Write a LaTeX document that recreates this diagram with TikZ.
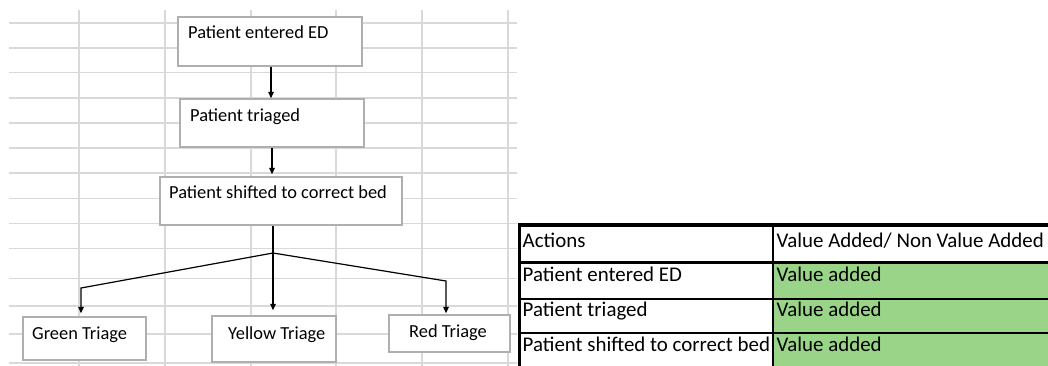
\documentclass[tikz,border=0pt]{standalone}
\usepackage{fontspec}
\setmainfont{Carlito}
\usetikzlibrary{arrows.meta,calc}
\definecolor{gridgray}{RGB}{217,217,217}
\definecolor{boxgray}{RGB}{175,175,175}
\definecolor{valgreen}{RGB}{153,212,137}
\begin{document}
\begin{tikzpicture}[x=1pt,y=-1pt,
  gridline/.style={draw=gridgray,line width=1.6pt},
  flowbox/.style={draw=boxgray,fill=white,line width=1.3pt,inner sep=0pt},
  flowtext/.style={anchor=base west,inner sep=0pt,font=\fontsize{18.4}{22}\selectfont},
  conn/.style={line width=1.2pt,draw=black},
  arr/.style={conn,-{Triangle[width=5.5pt,length=6.5pt]}},
  cell/.style={anchor=base west,inner sep=0pt,font=\fontsize{20.9}{25}\selectfont},
  tableline/.style={draw=black,line width=2pt}]
\useasboundingbox (0,0) rectangle (1048,365);
\fill[white] (0,0) rectangle (1048,365);
% spreadsheet grid
\foreach \y in {22.7,47.7,72.5,97.7,122.7,147.7,172.7,198.3,223.3,248.3,278.3,306,334,363}
  \draw[gridline] (9,\y) -- (517,\y);
\foreach \x in {79,165,251,336,422,508}
  \draw[gridline] (\x,10) -- (\x,368);
% flowchart boxes
\node[flowbox,minimum width=184pt,minimum height=49pt] (b1) at (270,41.5) {};
\node[flowbox,minimum width=184pt,minimum height=48pt] (b2) at (272,123) {};
\node[flowbox,minimum width=242pt,minimum height=48pt] (b3) at (281,201) {};
\node[flowbox,minimum width=123pt,minimum height=43pt] (green) at (84.5,338.5) {};
\node[flowbox,minimum width=124pt,minimum height=46pt] (yellow) at (274,339) {};
\node[flowbox,minimum width=121pt,minimum height=37pt] (red) at (449.5,333.5) {};
\node[flowtext] (t1) at (188,38.3) {Patient entered ED};
\node[flowtext] (t2) at (190,121) {Patient triaged};
\node[flowtext] (t3) at (169,198.3) {Patient shifted to correct bed};
\node[flowtext] (tg) at (32,339.3) {Green Triage};
\node[flowtext] (ty) at (228,339) {Yellow Triage};
\node[flowtext] (tr) at (409,337.3) {Red Triage};
% connectors
\coordinate (a1) at (271,0);
\coordinate (a2) at (272,0);
\coordinate (split) at (273,253);
\coordinate (gl) at (81,288);
\coordinate (rl) at (446,281);
\draw[arr] (b1.south -| a1) -- (b2.north -| a1);
\draw[arr,shorten >=2pt] (b2.south -| a2) -- (b3.north -| a2);
\draw[conn] (b3.south -| split) -- (split);
\draw[arr,shorten >=5pt] (split) -- (split |- yellow.north);
\draw[arr,shorten >=3pt] (split) -- (gl) -- (gl |- green.north);
\draw[arr,shorten >=1pt] (split) -- (rl) -- (rl |- red.north);
% table
\fill[valgreen] (774,263) rectangle (1050,370);
\draw[tableline,line width=3.5pt] (517.5,225) -- (1050,225);
\draw[tableline,line width=3pt] (519.5,223.5) -- (519.5,370);
\draw[tableline,line width=2.5pt] (519,262.7) -- (1050,262.7);
\draw[tableline] (519,298.7) -- (1050,298.7);
\draw[tableline] (519,333) -- (1050,333);
\draw[tableline,line width=2.5pt] (773,225) -- (773,370);
\node[cell] (h1) at (522.5,247.3) {Actions};
\node[cell] (h2) at (776.5,247.3) {Value Added/ Non Value Added};
\node[cell] (r1a) at (522.5,281.7) {Patient entered ED};
\node[cell] (r1b) at (776.5,281.7) {Value added};
\node[cell] (r2a) at (522.5,316.7) {Patient triaged};
\node[cell] (r2b) at (776.5,316.7) {Value added};
\node[cell] (r3a) at (522.5,351) {Patient shifted to correct bed};
\node[cell] (r3b) at (776.5,351) {Value added};
\end{tikzpicture}
\end{document}
